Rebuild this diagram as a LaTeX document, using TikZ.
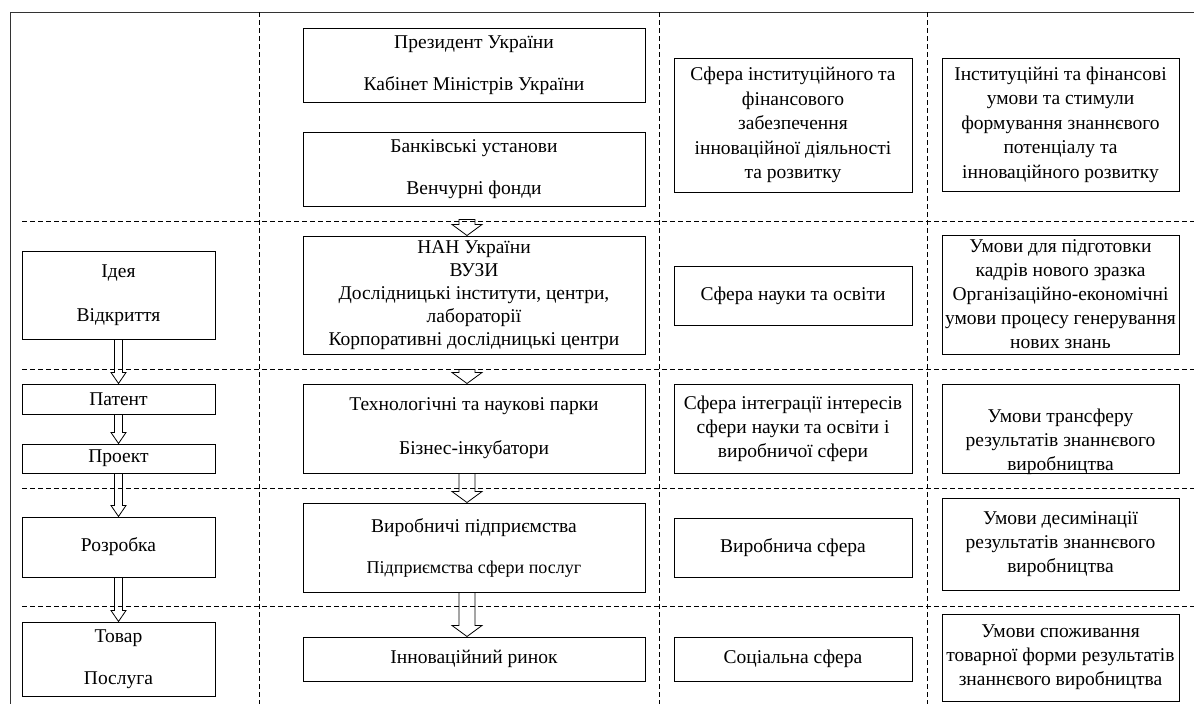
\documentclass[tikz,border=0pt]{standalone}
\usepackage{fontspec}
\setmainfont{Liberation Serif}
\usetikzlibrary{calc}

\begin{document}
\begin{tikzpicture}[
			x=1pt, y=-1pt,
			every node/.style={font=\fontsize{19.5}{24}\selectfont},
			box/.style={draw, line width=1pt, align=center, inner sep=0pt},
			sep/.style={dash pattern=on 5pt off 3pt, line width=0.8pt},
			fatarrow/.style 2 args={line width=0.8pt, to path={
				let \p1=(\tikztostart), \p2=(\tikztotarget) in
				(\x1-#1,\y1) -- (\x1-#1,\y2+11pt) -- (\x1-#2,\y2+11pt) -- (\x1,\y2)
				-- (\x1+#2,\y2+11pt) -- (\x1+#1,\y2+11pt) -- (\x1+#1,\y1) -- cycle}}
			]

				\useasboundingbox (0,0) rectangle (1194,704);

				\draw[line width=1pt, black!80] (1194,12) -- (10,12) -- (10,704);
				\foreach \y in {221,369,488,606}
					\draw[sep] (22,\y) -- (1194,\y);
				\foreach \x in {259,659,927}
					\draw[sep] (\x,12) -- (\x,704);

				% stages
				\node[box, minimum width=193, minimum height=88] (idea) at (118.5,295) {Ідея\\[20pt]Відкриття};
				\node[box, minimum width=193, minimum height=30] (patent) at (118.5,399) {Патент};
				\node[box, minimum width=193, minimum height=29] (project) at (118.5,458.5) {Проект};
				\node[box, minimum width=193, minimum height=60] (develop) at (118.5,547) {Розробка};
				\node[box, minimum width=193, minimum height=74] (goods) at (118.5,659) {Товар\\[18pt]Послуга};

				% institutions
				\node[box, minimum width=342, minimum height=74] (pres) at (474,65) {Президент України\\[18pt]Кабінет Міністрів України};
				\node[box, minimum width=342, minimum height=74] (bank) at (474,169) {Банківські установи\\[18pt]Венчурні фонди};
				\node[box, minimum width=342, minimum height=118, font=\fontsize{19.5}{23}\selectfont] (nan) at (474,295) {НАН України\\ВУЗИ\\Дослідницькі інститути, центри,\\лабораторії\\Корпоративні дослідницькі центри};
				\node[box, minimum width=342, minimum height=89] (parks) at (474,428.5) {Технологічні та наукові парки\\[20pt]Бізнес-інкубатори};
				\node[box, minimum width=342, minimum height=89] (prod) at (474,547.5) {Виробничі підприємства\\[17pt]{\fontsize{18}{22}\selectfont Підприємства сфери послуг}};
				\node[box, minimum width=342, minimum height=44] (market) at (474,659) {Інноваційний ринок};

				% spheres
				\node[box, minimum width=238, minimum height=134, font=\fontsize{19.5}{24.5}\selectfont] (sph1) at (793,125) {Сфера інституційного та\\фінансового\\забезпечення\\інноваційної діяльності\\та розвитку};
				\node[box, minimum width=238, minimum height=59] (sph2) at (793,295.5) {Сфера науки та освіти};
				\node[box, minimum width=238, minimum height=89] (sph3) at (793,428.5) {Сфера інтеграції інтересів\\сфери науки та освіти і\\виробничої сфери};
				\node[box, minimum width=238, minimum height=59] (sph4) at (793,547.5) {Виробнича сфера};
				\node[box, minimum width=238, minimum height=44] (sph5) at (793,659) {Соціальна сфера};

				% conditions
				\node[box, minimum width=237, minimum height=133, font=\fontsize{19.5}{24.5}\selectfont] (cond1) at (1060.5,124.5) {Інституційні та фінансові\\умови та стимули\\формування знаннєвого\\потенціалу та\\інноваційного розвитку};
				\node[box, minimum width=237, minimum height=119] (cond2) at (1060.5,294.5) {Умови для підготовки\\кадрів нового зразка\\Організаційно-економічні\\умови процесу генерування\\нових знань};
				\node[box, minimum width=237, minimum height=89, text height=86pt, text depth=3pt] (cond3) at (1060.5,428.5) {Умови трансферу\\результатів знаннєвого\\виробництва};
				\node[box, minimum width=237, minimum height=92] (cond4) at (1060.5,544) {Умови десимінації\\результатів знаннєвого\\виробництва};
				\node[box, minimum width=237, minimum height=87] (cond5) at (1060.5,657.5) {Умови споживання\\товарної форми результатів\\знаннєвого виробництва};

				\draw[fatarrow={4pt}{7.5pt}] (idea.south) to (patent.north);
				\draw[fatarrow={4pt}{7.5pt}] (patent.south) to (project.north);
				\draw[fatarrow={4pt}{7.5pt}] (project.south) to (develop.north);
				\draw[fatarrow={4pt}{7.5pt}] (develop.south) to (goods.north);

				\draw[fatarrow={8pt}{15pt}] ([shift={(-7,13)}]bank.south) to ([xshift=-7pt]nan.north);
				\draw[fatarrow={8pt}{15pt}] ([shift={(-7,15)}]nan.south) to ([xshift=-7pt]parks.north);
				\draw[fatarrow={8pt}{15pt}] ([xshift=-7pt]parks.south) to ([xshift=-7pt]prod.north);
				\draw[fatarrow={8pt}{15pt}] ([xshift=-7pt]prod.south) to ([xshift=-7pt]market.north);

			\end{tikzpicture}
\end{document}
